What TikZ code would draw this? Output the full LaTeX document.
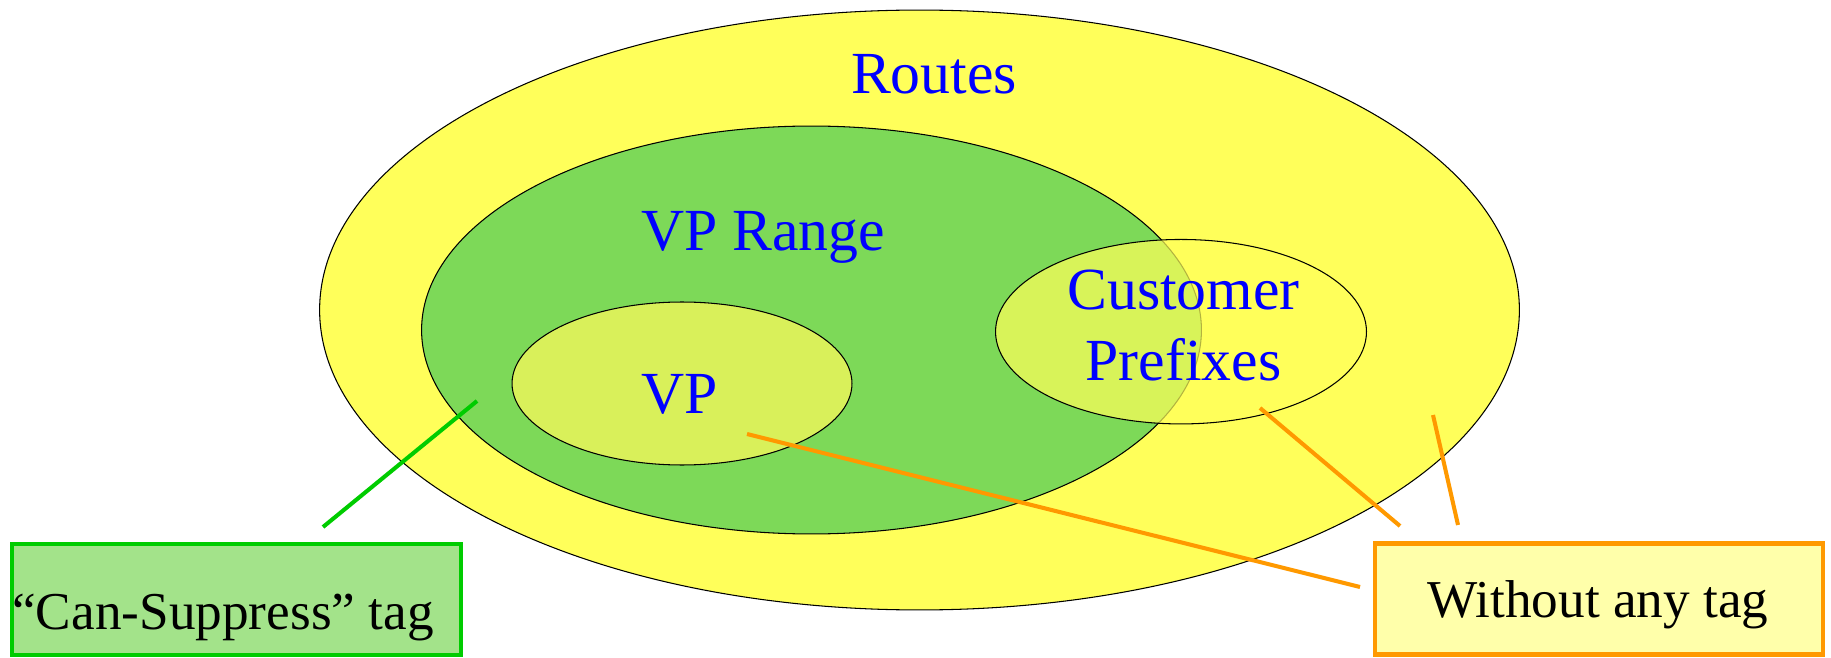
\documentclass[tikz,border=0pt]{standalone}
\usepackage{fontspec}
\setmainfont{Liberation Serif}
\usetikzlibrary{shapes.geometric}
\definecolor{routesY}{RGB}{255,255,90}
\definecolor{rangeG}{RGB}{125,217,88}
\definecolor{vpY}{RGB}{217,240,90}
\definecolor{lineG}{RGB}{0,204,0}
\definecolor{boxG}{RGB}{163,227,138}
\definecolor{lineO}{RGB}{255,153,0}
\definecolor{boxO}{RGB}{255,255,170}
\definecolor{txtB}{RGB}{0,0,255}
\tikzset{
  set/.style={ellipse, draw=black, line width=0.6pt, inner sep=0pt},
  lbl/.style={font=\fontsize{34}{41}\selectfont, text=txtB, anchor=base, inner sep=0pt},
  tagbox/.style={rectangle, line width=2.3pt, inner sep=0pt},
  tagtxt/.style={font=\fontsize{30.3}{36}\selectfont, text=black, inner sep=0pt},
  gline/.style={draw=lineG, line width=2.3pt},
  oline/.style={draw=lineO, line width=2.3pt}
}
\begin{document}
\begin{tikzpicture}[x=0.02cm,y=-0.02cm]
\useasboundingbox (0,0) rectangle (1831,658);
\node[set, fill=routesY, minimum width=24cm, minimum height=12cm] (routes) at (919.5,310) {};
\node[set, fill=rangeG, minimum width=15.6cm, minimum height=8.16cm] (range) at (811.5,330) {};
\node[set, fill=vpY, minimum width=6.8cm, minimum height=3.26cm] (vp) at (682,383.5) {};
\node[set, fill=routesY, fill opacity=0.7, minimum width=7.42cm, minimum height=3.69cm] (cust) at (1181,331.7) {};
\node[lbl] (troutes) at (934,94) {Routes};
\node[lbl] (trange) at (763,251) {VP Range};
\node[lbl] (tvp) at (680,413) {VP};
\node[lbl] (tcust1) at (1183.5,310) {Customer};
\node[lbl] (tcust2) at (1183.5,380) {Prefixes};
% boxes
\node[tagbox, draw=lineG, fill=boxG, minimum width=8.98cm, minimum height=2.22cm] (gbox) at (236.5,599.5) {};
\node[tagtxt, anchor=base west] (gtxt) at (12,629) {“Can-Suppress” tag};
\node[tagbox, draw=lineO, fill=boxO, minimum width=8.96cm, minimum height=2.22cm] (obox) at (1599,599) {};
\node[tagtxt, anchor=base] (otxt) at (1598,617) {Without any tag};
% connectors
\coordinate (g1) at (477,401);
\coordinate (g2) at (323,527);
\coordinate (o1a) at (747,434);
\coordinate (o1b) at (1360,587);
\coordinate (o2a) at (1260,408);
\coordinate (o2b) at (1400,526);
\coordinate (o3a) at (1433,415);
\coordinate (o3b) at (1458,525);
\draw[gline] (g1) -- (g2);
\draw[oline] (o1a) -- (o1b);
\draw[oline] (o2a) -- (o2b);
\draw[oline] (o3a) -- (o3b);
\end{tikzpicture}
\end{document}
